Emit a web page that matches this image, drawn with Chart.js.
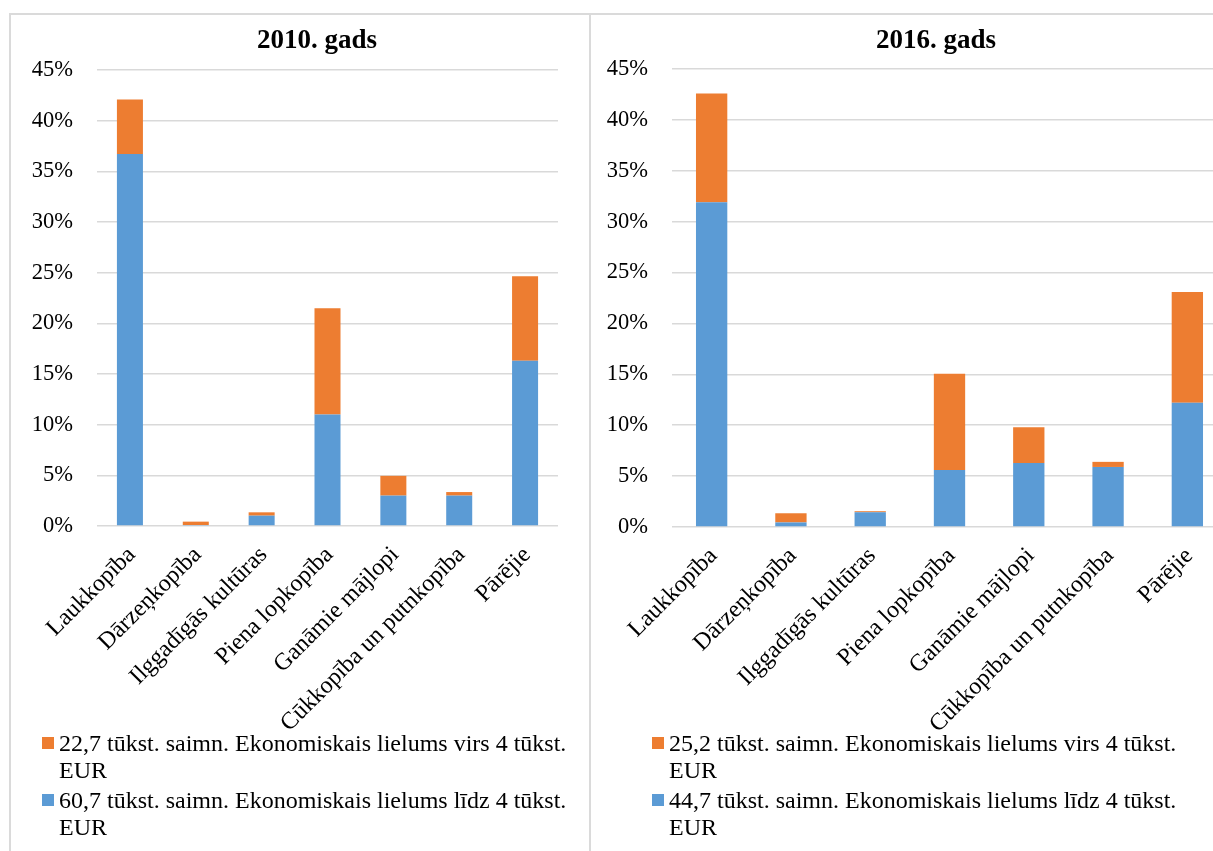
<!DOCTYPE html>
<html>
<head>
<meta charset="utf-8">
<script src="https://cdn.jsdelivr.net/npm/chart.js@4"></script>
<style>
html, body { margin: 0; padding: 0; background: #fff; overflow: hidden; width: 1213px; height: 851px; }
#frame { position: absolute; left: 9px; top: 13px; width: 1400px; height: 1000px; border-top: 2px solid #dadada; border-left: 2px solid #dadada; }
#divider { position: absolute; left: 589px; top: 13px; width: 2px; height: 1000px; background: #dadada; }
.box { position: absolute; top: 15px; }
#box2010 { left: 20px; }
#box2016 { left: 591px; }
.legend { position: absolute; font-family: 'Liberation Serif', 'Times New Roman', serif; font-size: 24px; color: #000; line-height: 27px; }
.legend .item { position: relative; padding-left: 17px; margin-bottom: 3px; width: 525px; }
.legend .swatch { position: absolute; left: 0; top: 7px; width: 12px; height: 12px; }
#legend2010 { left: 42px; top: 730px; }
#legend2016 { left: 652px; top: 730px; }
</style>
</head>
<body>
<div id="frame"></div>
<div id="divider"></div>
<div class="box" id="box2010"><canvas id="chart2010" width="594" height="720"></canvas></div>
<div class="box" id="box2016"><canvas id="chart2016" width="690" height="720"></canvas></div>
<div class="legend" id="legend2010"></div>
<div class="legend" id="legend2016"></div>
<script>
// Categories (nozares)
var categories = ['Laukkopība', 'Dārzeņkopība', 'Ilggadīgās kultūras', 'Piena lopkopība',
    'Ganāmie mājlopi', 'Cūkkopība un putnkopība', 'Pārējie'];

// 2010 - share of farms, %
var small2010 = [36.7, 0.1, 1.02, 11.0, 3.0, 3.0, 16.3];
var large2010 = [5.4, 0.33, 0.33, 10.5, 1.95, 0.35, 8.35];
var smallLabel2010 = '60,7 tūkst. saimn. Ekonomiskais lielums līdz 4 tūkst. EUR';
var largeLabel2010 = '22,7 tūkst. saimn. Ekonomiskais lielums virs 4 tūkst. EUR';

// 2016 - share of farms, %
var small2016 = [31.9, 0.45, 1.45, 5.6, 6.3, 5.9, 12.2];
var large2016 = [10.7, 0.9, 0.1, 9.45, 3.5, 0.5, 10.9];
var smallLabel2016 = '44,7 tūkst. saimn. Ekonomiskais lielums līdz 4 tūkst. EUR';
var largeLabel2016 = '25,2 tūkst. saimn. Ekonomiskais lielums virs 4 tūkst. EUR';

// y axis ticks
var yTicks = [0, 5, 10, 15, 20, 25, 30, 35, 40, 45];

var blue = '#5b9bd5';
var orange = '#ed7d31';
var fontFamily = "'Liberation Serif', 'Times New Roman', serif";

function makeChart(canvasId, legendId, title, small, large, smallLabel, largeLabel, opt) {
    var chart = new Chart(document.getElementById(canvasId), {
        type: 'bar',
        data: {
            labels: categories,
            datasets: [
                { label: smallLabel, data: small, backgroundColor: blue, borderWidth: 0 },
                { label: largeLabel, data: large, backgroundColor: orange, borderWidth: 0 }
            ]
        },
        options: {
            responsive: false,
            animation: false,
            layout: { padding: 0 },
            datasets: { bar: { categoryPercentage: 1, barPercentage: 0.395 } },
            plugins: {
                legend: { display: false },
                tooltip: { enabled: false },
                title: {
                    display: true,
                    text: title,
                    color: '#000',
                    font: { family: fontFamily, size: 27, weight: 'bold', lineHeight: 1.2 },
                    padding: { top: 9.8, bottom: opt.titleBottom }
                }
            },
            scales: {
                x: {
                    stacked: true,
                    grid: { display: false },
                    border: { display: false },
                    ticks: {
                        autoSkip: false,
                        minRotation: 45,
                        maxRotation: 45,
                        padding: 7,
                        labelOffset: 2,
                        color: '#000',
                        font: { family: fontFamily, size: 24 }
                    },
                    afterFit: function(scale) { scale.height = opt.xHeight; }
                },
                y: {
                    stacked: true,
                    min: 0,
                    max: 45,
                    afterBuildTicks: function(scale) {
                        scale.ticks = yTicks.map(function(v) { return { value: v }; });
                    },
                    grid: { color: '#d9d9d9', lineWidth: 1.5, drawTicks: false },
                    border: { display: false },
                    ticks: {
                        padding: 24,
                        color: '#000',
                        font: { family: fontFamily, size: 22.5 },
                        callback: function(v) { return v + '%'; }
                    },
                    afterFit: function(scale) { scale.width = opt.yWidth; }
                },
                // empty right axis, only keeps the space on the right side
                yRight: {
                    position: 'right',
                    grid: { display: false },
                    border: { display: false },
                    ticks: { display: false },
                    afterFit: function(scale) { scale.width = opt.rightWidth; }
                }
            }
        }
    });

    // Legend in html so the long labels can wrap
    var legend = document.getElementById(legendId);
    chart.data.datasets.slice().reverse().forEach(function(ds) {
        var item = document.createElement('div');
        item.className = 'item';
        var sw = document.createElement('span');
        sw.className = 'swatch';
        sw.style.background = ds.backgroundColor;
        item.appendChild(sw);
        item.appendChild(document.createTextNode(ds.label));
        legend.appendChild(item);
    });
    return chart;
}

makeChart('chart2010', 'legend2010', '2010. gads', small2010, large2010, smallLabel2010, largeLabel2010,
    { yWidth: 77, rightWidth: 56, xHeight: 209, titleBottom: 12.8 });
makeChart('chart2016', 'legend2016', '2016. gads', small2016, large2016, smallLabel2016, largeLabel2016,
    { yWidth: 81, rightWidth: 54, xHeight: 208, titleBottom: 11.8 });
</script>
</body>
</html>
